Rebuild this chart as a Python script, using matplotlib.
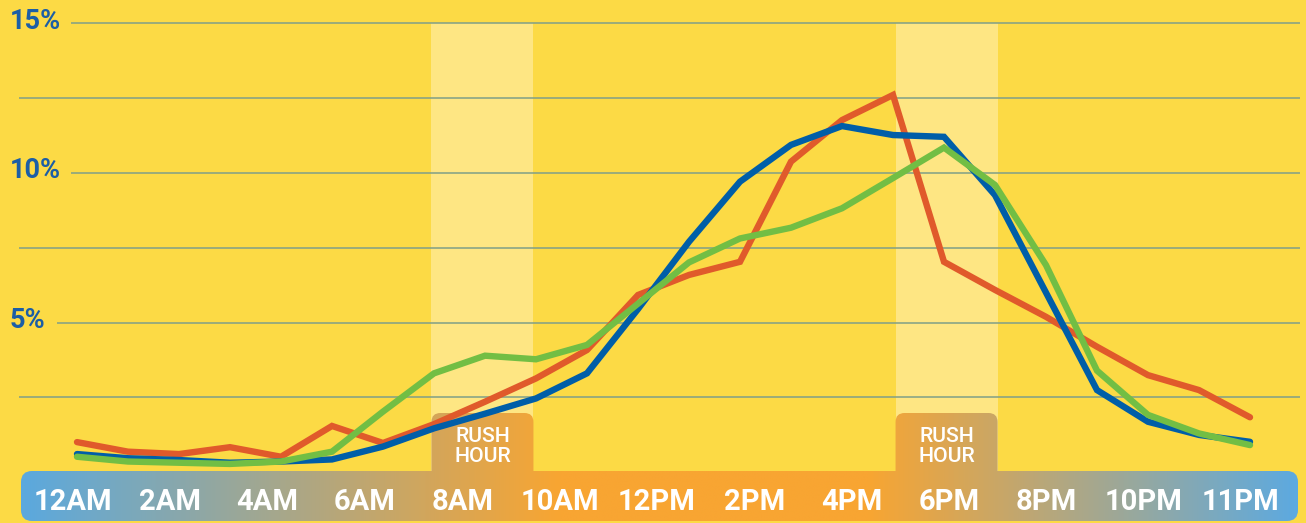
import numpy as np
import matplotlib
matplotlib.use("Agg")
import matplotlib.pyplot as plt
from matplotlib.colors import LinearSegmentedColormap
from matplotlib.patches import FancyBboxPatch, Rectangle

# hourly share of trips (%), 12AM .. 11PM
hours = np.arange(24)
red = [1.00, 0.68, 0.60, 0.83, 0.51, 1.54, 0.97, 1.60, 2.35, 3.13, 4.08, 5.92,
       6.59, 7.03, 10.38, 11.77, 12.61, 7.03, 6.09, 5.19, 4.19, 3.24, 2.74, 1.83]
blue = [0.60, 0.46, 0.40, 0.31, 0.35, 0.42, 0.85, 1.46, 1.95, 2.46, 3.30, 5.45,
        7.70, 9.71, 10.94, 11.57, 11.27, 11.21, 9.26, 6.00, 2.74, 1.68, 1.24, 1.01]
green = [0.51, 0.35, 0.31, 0.27, 0.35, 0.68, 2.02, 3.30, 3.89, 3.77, 4.25, 5.63,
         7.01, 7.81, 8.17, 8.82, 9.83, 10.85, 9.60, 6.92, 3.39, 1.91, 1.29, 0.90]
tick_labels = ["12AM", "2AM", "4AM", "6AM", "8AM", "10AM", "12PM", "2PM",
               "4PM", "6PM", "8PM", "10PM", "11PM"]
grid_vals = [2.5, 5, 7.5, 10, 12.5, 15]
y_labels = {15: "15%", 10: "10%", 5: "5%"}
rush_spans = [(6.95, 8.95), (16.05, 18.05)]

BG = "#fcda45"
BAND = "#fee683"
GRID = "#7f9f88"
LBLUE = "#1b5ea6"

W, H = 1306, 523
fig = plt.figure(figsize=(W / 100, H / 100), dpi=100)
fig.patch.set_facecolor(BG)
ax = fig.add_axes([0, 0, 1, 1])
ax.set_facecolor(BG)
ax.axis("off")

# pixel <-> data helpers (x: 51 px per hour, y: 29.9 px per percent)
def px_x(p):
    return (p - 77) / 51.0

def px_y(p):
    return (472 - p) / 29.9

x0, x1 = px_x(0), px_x(W)
y0, y1 = px_y(H), px_y(0)

# rush hour bands
for a, b in rush_spans:
    ax.add_patch(Rectangle((a, 0), b - a, 15, color=BAND, lw=0, zorder=0))

# gridlines
for g in grid_vals:
    start = px_x(19)
    if g in (15, 10):
        start = px_x(71)
    elif g == 5:
        start = px_x(57)
    ax.hlines(g, start, px_x(1300), color=GRID, lw=1.1, zorder=1)
for v, s in y_labels.items():
    ax.text(px_x(10), v - 0.17, s, color=LBLUE, fontsize=19.5,
            fontfamily="Roboto", fontweight="bold", ha="left", va="baseline")

# gradient bar + tabs
cmap = LinearSegmentedColormap.from_list(
    "bar", [(0, "#5ba9de"), (0.42, "#f8a532"), (0.665, "#f8a532"), (1, "#5daae0")])
grad = np.linspace(0, 1, 512)[None, :]
bx0, bx1 = px_x(21), px_x(1298)
asp = 51 / 29.9

def grad_patch(xa, xb, ya, yb, r):
    p = FancyBboxPatch((xa, ya), xb - xa, yb - ya,
                       boxstyle="round,pad=0,rounding_size=%f" % r,
                       mutation_aspect=asp, lw=0, fc="none")
    ax.add_patch(p)
    im = ax.imshow(grad, cmap=cmap, extent=[bx0, bx1, y0, px_y(405)],
                   aspect="auto", zorder=2, interpolation="bilinear")
    im.set_clip_path(p)

grad_patch(bx0, bx1, px_y(521), px_y(471), 11 / 51)
for a, b in rush_spans:
    grad_patch(a, b, px_y(480), px_y(413), 9 / 51)
    c = (a + b) / 2
    ax.text(c, px_y(441.5), "RUSH", color="white", fontsize=15.3,
            fontfamily="Roboto", fontweight="medium", ha="center", va="baseline", zorder=3)
    ax.text(c, px_y(461.5), "HOUR", color="white", fontsize=15.3,
            fontfamily="Roboto", fontweight="medium", ha="center", va="baseline", zorder=3)

for xp, s in zip(np.linspace(px_x(73), px_x(1241), len(tick_labels)), tick_labels):
    ax.text(xp, px_y(510), s, color="white", fontsize=21, fontfamily="Roboto",
            fontweight="bold", ha="center", va="baseline", zorder=3)

# data lines
for ys, col in [(red, "#e05a2b"), (blue, "#005ea8"), (green, "#72be44")]:
    ax.plot(hours, ys, color=col, lw=4.6, solid_capstyle="round",
            solid_joinstyle="miter", zorder=4)

ax.set_xlim(x0, x1)
ax.set_ylim(y0, y1)
fig.savefig("out.png", dpi=100, facecolor=BG)
